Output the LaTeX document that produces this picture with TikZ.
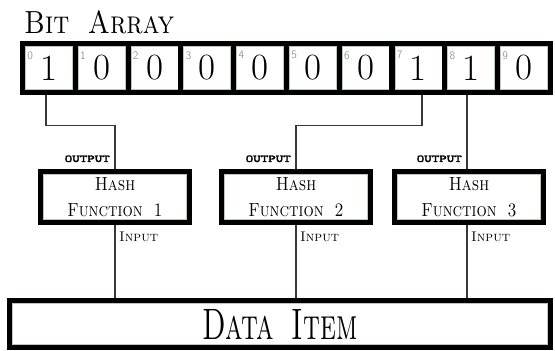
\documentclass[tikz,border=0pt]{standalone}
\usepackage{fontspec}
\usetikzlibrary{backgrounds}
\newfontfamily\monofont{Latin Modern Mono}[AutoFakeBold=2.5]
\definecolor{edgegreen}{HTML}{B5CDB5}
\definecolor{idxgray}{HTML}{9A9A9A}
\definecolor{wire}{HTML}{383838}
\tikzset{
  cellbox/.style={draw=black, line width=5.3pt, fill=white,
    minimum width=52.77pt, minimum height=48.7pt, inner sep=0pt, outer sep=0pt,
    font=\fontsize{37}{40}\selectfont},
  hashbox/.style={draw=black, line width=5pt, fill=white,
    minimum width=149pt, minimum height=51pt, inner sep=0pt, outer sep=0pt,
    align=center, font=\fontsize{19}{26}\selectfont\scshape},
  databox/.style={draw=black, line width=5pt, fill=white,
    minimum width=541pt, minimum height=47pt, inner sep=0pt, outer sep=0pt,
    font=\fontsize{44}{46}\selectfont\scshape},
  innerline/.style={draw=edgegreen, line width=0.8pt},
  idx/.style={text=idxgray, inner sep=0pt, font=\sffamily\fontsize{11.5}{12}\selectfont},
  outlbl/.style={inner sep=0pt, font=\monofont\bfseries\fontsize{11}{12}\selectfont},
  inlbl/.style={inner sep=0pt, font=\fontsize{14}{15}\selectfont\scshape},
  wireline/.style={draw=wire, line width=1.2pt},
}
\begin{document}
\begin{tikzpicture}[x=1pt,y=1pt]
\useasboundingbox (0,0) rectangle (555,351);

% title
\node[anchor=base west, inner sep=0pt, font=\fontsize{32}{34}\selectfont\scshape]
  (title) at (24,317) {\scalebox{0.85}[1]{Bit\hspace{0.3em} Array}};

% hash function boxes and the data item
\node[hashbox] (h1) at (115,154) {\scalebox{0.85}[1]{Hash}\\\scalebox{0.85}[1]{Function\hspace{0.3em} 1}};
\node[hashbox] (h2) at (296,154) {\scalebox{0.85}[1]{Hash}\\\scalebox{0.85}[1]{Function\hspace{0.3em} 2}};
\node[hashbox] (h3) at (469,154) {\scalebox{0.85}[1]{Hash}\\\scalebox{0.85}[1]{Function\hspace{0.3em} 3}};
\node[databox] (data) at (280,27) {\scalebox{0.65}[1]{Data\hspace{0.25em} Item}};
\foreach \n in {h1,h2,h3,data}
  \draw[innerline] ([shift={(2.8,-2.8)}]\n.north west) rectangle ([shift={(-2.8,2.8)}]\n.south east);

% bit array cells
\foreach \v [count=\i from 0] in {1,0,0,0,0,0,0,1,1,0} {
  \node[cellbox] (c\i) at ({49.03+52.77*\i},283) {\raisebox{-1.5pt}{\v}};
  \draw[innerline] ([shift={(2.9,-2.9)}]c\i.north west) rectangle ([shift={(-2.9,2.9)}]c\i.south east);
  \node[idx, anchor=north west] (n\i) at ([shift={(4.6,-7.5)}]c\i.north west) {\i};
}

% bend level of the output wires
\coordinate (bend) at (0,225.5);

\begin{scope}[on background layer]
% hash outputs into the array
\draw[wireline] ([xshift=-3pt]c0.south) -- ([xshift=-3pt]c0.south |- bend) -| (h1.north);
\draw[wireline] ([xshift=3.5pt]c7.south) -- ([xshift=3.5pt]c7.south |- bend) -| (h2.north);
\draw[wireline] ([xshift=-2pt]h3.north |- c8.south) -- ([xshift=-2pt]h3.north);
% data item into the hash functions
\foreach \h in {h1,h2}
  \draw[wireline] (\h.south) -- (\h.south |- data.north);
\draw[wireline] ([xshift=-2pt]h3.south) -- ([xshift=-2pt]h3.south |- data.north);
\end{scope}

% port labels
\foreach \h in {h1,h2}{
  \node[outlbl, anchor=base east] (\h o) at ([shift={(-5,9.5)}]\h.north) {\scalebox{1.3}[0.95]{OUTPUT}};
  \node[inlbl, anchor=base west] (\h i) at ([shift={(4,-19)}]\h.south) {Input};
}
\node[outlbl, anchor=base east] (h3o) at ([shift={(-7,9.5)}]h3.north) {\scalebox{1.3}[0.95]{OUTPUT}};
\node[inlbl, anchor=base west] (h3i) at ([shift={(2,-19)}]h3.south) {Input};
\end{tikzpicture}
\end{document}
